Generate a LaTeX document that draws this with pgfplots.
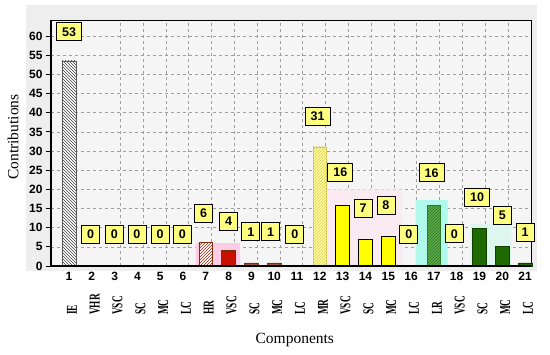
\documentclass[border=0pt]{standalone}
\usepackage{fontspec}
\setmainfont{Liberation Serif}
\newfontfamily\arial{Liberation Sans}
\usepackage{pgfplots}
\pgfplotsset{compat=1.18}
\usetikzlibrary{patterns}

\definecolor{panelgray}{HTML}{EEEEEE}
\definecolor{axbg}{HTML}{F5F5F5}
\definecolor{lblyellow}{HTML}{FFFF80}
\definecolor{brownc}{HTML}{7A2E0E}
\definecolor{redc}{HTML}{C81000}
\definecolor{pinkbg}{HTML}{FFCCE6}
\definecolor{faintpink}{HTML}{FAEAF1}
\definecolor{lightyel}{HTML}{FFFFA0}
\definecolor{yelhatch}{HTML}{D8C850}
\definecolor{brightyel}{HTML}{FFFF00}
\definecolor{midgreen}{HTML}{5DAA4A}
\definecolor{hatchgreen}{HTML}{2F7A2A}
\definecolor{cyanbg}{HTML}{B0F8EC}
\definecolor{lightcyan}{HTML}{DDF7EF}
\definecolor{darkgreen}{HTML}{1F6A00}
\definecolor{darkgreenb}{HTML}{123F00}

\newcommand{\cat}[1]{\scalebox{0.62}[1]{\fontsize{15}{15}\selectfont\bfseries #1}}
\newcommand{\num}[1]{{\arial\bfseries\fontsize{12}{12}\selectfont #1}}

\pgfplotstableread{
x y t
1 61.1 53
1.95 8.3 0
2.99 8.3 0
3.98 8.3 0
4.99 8.3 0
5.97 8.3 0
6.9 13.8 6
8.0 11.7 4
8.97 8.9 1
9.84 8.9 1
10.9 8.3 0
11.9 39.0 31
12.9 24.4 16
13.9 15.1 7
14.9 15.9 8
15.9 8.3 0
16.9 24.3 16
17.9 8.4 0
18.9 18.0 10
20.0 13.3 5
21.0 8.8 1
}\labels

\begin{document}
\begin{tikzpicture}
\useasboundingbox (-51pt,-89pt) rectangle (499pt,266pt);
\fill[panelgray] (-25pt,-5pt) rectangle (486pt,261pt);
\begin{axis}[
  scale only axis, width=480pt, height=246pt,
  xmin=0.21, xmax=21.26, ymin=0, ymax=64.2,
  clip=false,
  axis background/.style={fill=axbg},
  axis line style={black, line width=0.9pt},
  xtick={1,...,21},
  xticklabels={\num{1},\num{2},\num{3},\num{4},\num{5},\num{6},\num{7},\num{8},\num{9},\num{10},\num{11},\num{12},\num{13},\num{14},\num{15},\num{16},\num{17},\num{18},\num{19},\num{20},\num{21}},
  x tick style={draw=none},
  xticklabel style={yshift=-3pt},
  extra x ticks={1,...,21},
  extra x tick labels={\cat{IE},\cat{VHR},\cat{VSC},\cat{SC},\cat{MC},\cat{LC},\cat{HR},\cat{VSC},\cat{SC},\cat{MC},\cat{LC},\cat{MR},\cat{VSC},\cat{SC},\cat{MC},\cat{LC},\cat{LR},\cat{VSC},\cat{SC},\cat{MC},\cat{LC}},
  extra x tick style={grid=none, major tick length=0pt, tick label style={yshift=-49pt, rotate=90, anchor=west, inner sep=0pt}},
  minor xtick={3.25,4.25,...,20.25},
  xminorgrids=true,
  minor x grid style={dashed, gray!75, line width=0.6pt},
  minor tick length=0pt,
  ytick={0,5,...,60},
  ymajorgrids=true,
  major grid style={dashed, gray!75, line width=0.6pt},
  y tick style={black, line width=0.8pt},
  ytick align=outside, ytick pos=left,
  major tick length=5pt,
  /pgf/number format/assume math mode=true,
  yticklabel style={font=\arial\bfseries\fontsize{12}{12}\selectfont},
  xlabel={Components}, ylabel={Contributions},
  every axis x label/.style={at={(axis description cs:0.508,-0.301)}, anchor=center, font=\fontsize{15.5}{18}\selectfont},
  every axis y label/.style={at={(axis description cs:-0.079,0.524)}, rotate=90, anchor=center, font=\fontsize{15.5}{18}\selectfont},
  after end axis/.code={
    \draw[black, line width=2.6pt] (rel axis cs:0,1) -- (rel axis cs:0,0) -- (rel axis cs:1,0);
  },
]
% background glows
\addplot[fill=faintpink, draw=none] coordinates {(12.3,0) (12.3,20) (15.6,20) (15.6,0)} \closedcycle;
\addplot[fill=pinkbg, draw=none] coordinates {(6.55,0) (6.55,6) (8.5,6) (8.5,0)} \closedcycle;
\addplot[fill=cyanbg, draw=none] coordinates {(16.2,0) (16.2,17.2) (17.6,17.2) (17.6,0)} \closedcycle;
\addplot[fill=lightcyan, draw=none] coordinates {(18.6,0) (18.6,11) (20.4,11) (20.4,0)} \closedcycle;

% bars
\addplot[ybar, bar shift=0pt, bar width=0.6, fill=white, draw=gray!70!black, line width=0.6pt,
  postaction={pattern=north west lines, pattern color=black!75}] coordinates {(1,53.5)};
\addplot[ybar, bar shift=0pt, bar width=0.6, fill=white, draw=brownc, line width=0.8pt,
  postaction={pattern=north east lines, pattern color=brownc!80!red}] coordinates {(7,6.2)};
\addplot[ybar, bar shift=0pt, bar width=0.6, fill=redc, draw=brownc, line width=1.4pt] coordinates {(8,3.9)};
\addplot[ybar, bar shift=0pt, bar width=0.6, fill=brownc!80, draw=brownc, line width=0.6pt] coordinates {(9,0.8) (10,0.8)};
\addplot[ybar, bar shift=0pt, bar width=0.6, fill=lightyel, draw=yelhatch, line width=0.6pt,
  postaction={pattern=north east lines, pattern color=yelhatch}] coordinates {(12,31.1)};
\addplot[ybar, bar shift=0pt, bar width=0.6, fill=brightyel, draw=black, line width=0.8pt] coordinates {(13,15.8) (14,6.9) (15,7.8)};
\addplot[ybar, bar shift=0pt, bar width=0.6, fill=midgreen, draw=hatchgreen, line width=0.6pt,
  postaction={pattern=north east lines, pattern color=hatchgreen}] coordinates {(17,15.9)};
\addplot[ybar, bar shift=0pt, bar width=0.6, fill=darkgreen, draw=darkgreenb, line width=0.8pt] coordinates {(19,9.9) (20,5.0) (21,0.8)};

% value labels
\addplot[draw=none, mark=none, nodes near coords, point meta=explicit symbolic,
  every node near coord/.style={anchor=center, draw=black, line width=0.9pt, fill=lblyellow, text=black,
    font=\arial\bfseries\fontsize{12.5}{12.5}\selectfont, inner xsep=5.5pt, inner ysep=2.5pt,
    minimum width=18pt, minimum height=18pt}]
  table[x=x, y=y, meta=t] {\labels};
\end{axis}
\end{tikzpicture}
\end{document}
